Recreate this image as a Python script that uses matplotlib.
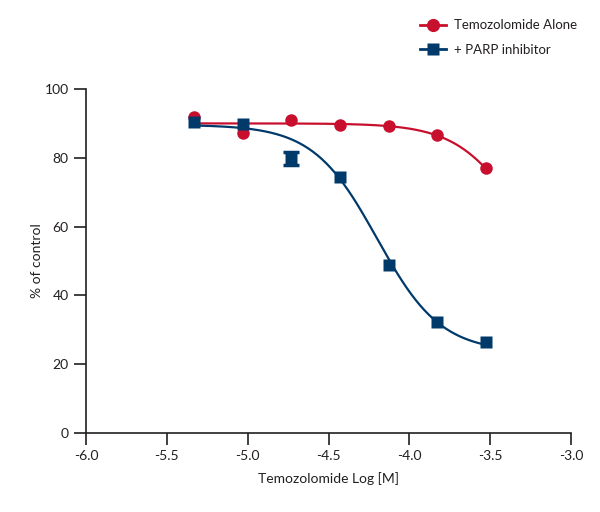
import numpy as np
import matplotlib
matplotlib.use('Agg')
import matplotlib.pyplot as plt
from matplotlib.lines import Line2D

plt.rcParams['font.family'] = ['Lato', 'DejaVu Sans']

# data
log_conc = [-5.332, -5.031, -4.730, -4.429, -4.128, -3.827, -3.526]
tmz_alone = [92.0, 87.2, 91.0, 89.5, 89.2, 86.7, 77.0]
tmz_parp = [90.3, 89.8, 79.8, 74.4, 48.8, 32.3, 26.4]
tmz_parp_err = [0, 0, 1.9, 0, 0, 0, 0]

# fitted dose-response curves (top, bottom, logEC50, hill)
fit_alone = [90.0, 40.0, -3.326, 2.23]
fit_parp = [89.6, 23.5, -4.20, 2.2]

red = '#c8102e'
blue = '#003a6b'
ink = '#231f20'


def four_pl(x, p):
    top, bottom, x50, hill = p
    return bottom + (top - bottom) / (1 + 10 ** ((x - x50) * hill))


fig = plt.figure(figsize=(6, 5.12), dpi=100)
ax = fig.add_axes([0.1433, 0.1543, 0.8084, 0.6719])

xs = np.linspace(log_conc[0], log_conc[-1], 200)
ax.plot(xs, four_pl(xs, fit_alone), color=red, lw=1.6, zorder=2)
ax.plot(xs, four_pl(xs, fit_parp), color=blue, lw=1.6, zorder=2)

ax.plot(log_conc, tmz_alone, 'o', color=red, ms=9, mec='none', zorder=3)
ax.plot(log_conc, tmz_parp, 's', color=blue, ms=8.8, mec='none', zorder=4)

# only points with a real error bar
idx = [i for i, e in enumerate(tmz_parp_err) if e > 0]
ax.errorbar([log_conc[i] for i in idx], [tmz_parp[i] for i in idx],
            yerr=[tmz_parp_err[i] for i in idx], fmt='none', ecolor=blue,
            elinewidth=2, capsize=6, capthick=2.5, zorder=4)

ax.set_xlim(-6, -3)
ax.set_ylim(0, 100)
ticks = np.arange(-6, -2.9, 0.5)
ax.set_xticks(ticks)
ax.set_xticklabels(['%.1f' % v for v in ticks])
ax.set_yticks(range(0, 101, 20))
for s in ['top', 'right']:
    ax.spines[s].set_visible(False)
for s in ['left', 'bottom']:
    ax.spines[s].set_linewidth(1.2)
    ax.spines[s].set_color(ink)
ax.tick_params(length=8.5, width=1.2, color=ink, labelsize=10,
               labelcolor=ink, pad=4)
ax.set_xlabel('Temozolomide Log [M]', fontsize=10, color=ink, labelpad=7)
ax.set_ylabel('% of control', fontsize=10, color=ink, labelpad=1)

handles = [
    Line2D([], [], color=red, lw=2, marker='o', ms=9.5, mec='none'),
    Line2D([], [], color=blue, lw=2, marker='s', ms=9, mec='none'),
]
fig.legend(handles, ['Temozolomide Alone', '+ PARP inhibitor'],
           loc='upper left', bbox_to_anchor=(0.70, 0.962), frameon=False,
           fontsize=9.5, handlelength=2.0, handletextpad=0.6, labelspacing=0.95,
           borderpad=0, borderaxespad=0, labelcolor=ink)

fig.savefig('out.png', dpi=100)
